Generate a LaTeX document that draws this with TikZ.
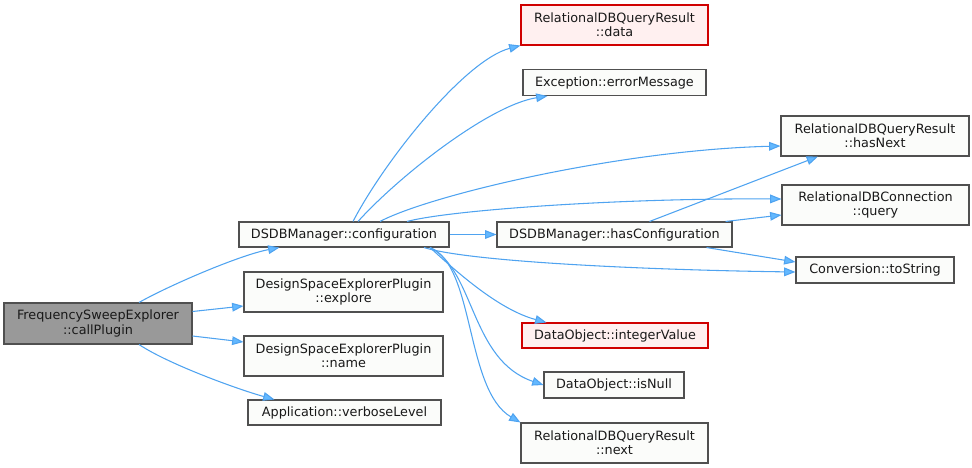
\documentclass[tikz,border=0pt]{standalone}
\usepackage{fontspec}
\setmainfont{DejaVu Sans}
\usetikzlibrary{arrows.meta,calc}
\definecolor{edgec}{HTML}{4FA3F0}
\definecolor{arrowc}{HTML}{63B8FF}
\definecolor{boxfill}{HTML}{FBFCFA}
\definecolor{boxdraw}{HTML}{505050}
\definecolor{rootfill}{HTML}{999999}
\definecolor{redfill}{HTML}{FFF0F0}
\definecolor{reddraw}{HTML}{D00000}
\tikzset{
  fn/.style={draw=boxdraw, fill=boxfill, line width=0.8pt, inner sep=0pt, align=center,
    font=\fontsize{9.6}{10.6}\selectfont, text=black!90},
  rootfn/.style={fn, fill=rootfill},
  redfn/.style={fn, draw=reddraw, fill=redfill},
  call/.style={draw=edgec, line width=0.8pt, -{Triangle[length=8.5pt,width=6.5pt,fill=arrowc]}},
}
\begin{document}
\begin{tikzpicture}[x=0.75pt,y=-0.75pt]
\useasboundingbox (0,0) rectangle (972,468);
% nodes
\node[rootfn, minimum width=188*0.75pt, minimum height=41*0.75pt] (cp) at (98,323.5) {FrequencySweepExplorer\\::callPlugin};
\node[fn, minimum width=210*0.75pt, minimum height=25*0.75pt] (conf) at (344,234.5) {DSDBManager::configuration};
\node[fn, minimum width=199*0.75pt, minimum height=40*0.75pt] (expl) at (343.5,292) {DesignSpaceExplorerPlugin\\::explore};
\node[fn, minimum width=199*0.75pt, minimum height=40*0.75pt] (name) at (343.5,356) {DesignSpaceExplorerPlugin\\::name};
\node[fn, minimum width=193*0.75pt, minimum height=25*0.75pt] (verb) at (344.5,412.5) {Application::verboseLevel};
\node[redfn, minimum width=187*0.75pt, minimum height=40*0.75pt] (data) at (614.5,25) {RelationalDBQueryResult\\::data};
\node[fn, minimum width=183*0.75pt, minimum height=26*0.75pt] (err) at (614.5,82.5) {Exception::errorMessage};
\node[fn, minimum width=235*0.75pt, minimum height=25*0.75pt] (hconf) at (614.5,234.5) {DSDBManager::hasConfiguration};
\node[redfn, minimum width=186*0.75pt, minimum height=25*0.75pt] (ival) at (615,335.5) {DataObject::integerValue};
\node[fn, minimum width=140*0.75pt, minimum height=26*0.75pt] (isnull) at (614,385) {DataObject::isNull};
\node[fn, minimum width=187*0.75pt, minimum height=40*0.75pt] (next) at (614.5,443) {RelationalDBQueryResult\\::next};
\node[fn, minimum width=188*0.75pt, minimum height=40*0.75pt] (hnext) at (875,136) {RelationalDBQueryResult\\::hasNext};
\node[fn, minimum width=187*0.75pt, minimum height=40*0.75pt] (query) at (875.5,205) {RelationalDBConnection\\::query};
\node[fn, minimum width=158*0.75pt, minimum height=26*0.75pt] (tostr) at (875,270) {Conversion::toString};
% edges from callPlugin
\draw[call] ($(cp.north)+(41,0)$) .. controls (170,285) and (240,255) .. ($(conf.south west)+(41,0)$);
\draw[call] ($(cp.east)+(0,-12)$) -- ($(expl.west)+(0,14)$);
\draw[call] ($(cp.east)+(0,12.5)$) -- ($(name.west)+(0,-14)$);
\draw[call] ($(cp.south)+(41,0)$) .. controls (170,365) and (240,390) .. ($(verb.north west)+(27,0)$);
% edges from configuration
\draw[call] ($(conf.north)+(9,0)$) .. controls (385,160) and (465,60) .. (data.south west);
\draw[call] ($(conf.north)+(14,0)$) .. controls (400,175) and (490,105) .. ($(err.south west)+(25,0)$);
\draw[call] ($(conf.north)+(36,0)$) .. controls (430,195) and (620,150) .. ($(hnext.west)+(0,10)$);
\draw[call] ($(conf.north)+(63,0)$) .. controls (450,210) and (620,198) .. ($(query.west)+(0,-6)$);
\draw[call] (conf.east) -- (hconf.west);
\draw[call] ($(conf.south)+(80,0)$) .. controls (470,262) and (650,270) .. ($(tostr.west)+(0,2)$);
\draw[call] ($(conf.south)+(86,0)$) .. controls (460,275) and (500,310) .. ($(ival.north west)+(25,0)$);
\draw[call] ($(conf.south)+(86,0)$) .. controls (475,270) and (470,360) .. (isnull.west);
\draw[call] ($(conf.south)+(86,0)$) .. controls (475,265) and (465,390) .. (next.north west);
% edges from hasConfiguration
\draw[call] ($(hconf.north)+(35,0)$) -- ($(hnext.south)+(-57,0)$);
\draw[call] ($(hconf.north east)+(-7,0)$) -- ($(query.west)+(0,10)$);
\draw[call] ($(hconf.south)+(92,0)$) -- ($(tostr.west)+(0,-8)$);
\end{tikzpicture}
\end{document}
